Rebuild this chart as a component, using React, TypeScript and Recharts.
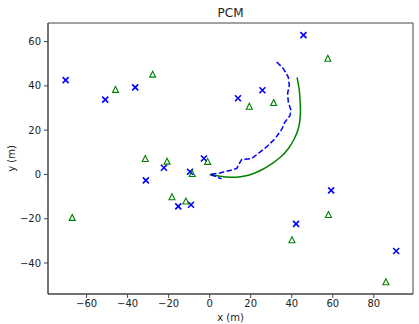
import React from "react";
import { ComposedChart, XAxis, YAxis, Scatter, Line, ReferenceArea } from "recharts";

// Blue "x" markers
const blueX = [-70.2, -50.9, -36.3, 13.8, 25.7, 45.7, -31.1, -22.3, -9.6, -2.8, -15.3, -9.1, 59.2, 42.1, 90.9];
const blueY = [42.6, 33.8, 39.3, 34.4, 38.0, 62.9, -2.7, 3.0, 1.2, 7.2, -14.4, -13.7, -7.2, -22.3, -34.6];

// Green triangle markers
const greenX = [-45.9, -27.8, 19.3, 31.2, 57.6, -31.4, -20.8, -8.5, -1.0, -18.4, -11.6, 57.9, -67.0, 40.1, 85.9];
const greenY = [38.4, 45.3, 30.8, 32.5, 52.5, 7.2, 6.0, 0.4, 5.9, -10.1, -12.0, -18.1, -19.4, -29.5, -48.5];

// Green solid arc
const arcX = [0, 5, 10, 15.1, 20.1, 25.2, 30.2, 34.7, 38.2, 41.2, 43.3, 44.2, 44.1, 43.6, 42.6];
const arcY = [0, -0.8, -1.3, -1.0, 0, 2, 4.8, 8, 11.5, 16, 21, 27, 33, 38.5, 43.8];

// Blue dashed path
const pathX = [32.7, 35.9, 38.3, 38.8, 38.0, 38.3, 39.6, 39.1, 36.7, 35.1, 31.9, 27.8, 23.7, 20.5, 17.2, 15.6, 14.5, 13.2, 9.9, 5, 0, 3, 5.8];
const pathY = [50.8, 47.8, 44.0, 40.3, 36.6, 32.8, 29.0, 26.5, 23.7, 20.3, 16.2, 12.5, 9.5, 7.2, 6.9, 6.8, 5.0, 2.7, 1.8, 0.7, 0, -1, -2];

const xTicks = [-60, -40, -20, 0, 20, 40, 60, 80];
const yTicks = [-40, -20, 0, 20, 40, 60];
const xDomain: [number, number] = [-78.8, 99.1];
const yDomain: [number, number] = [-54.0, 68.4];

const zip = (xs: number[], ys: number[]) => xs.map((x, i) => ({ x, y: ys[i] }));
const blueData = zip(blueX, blueY);
const greenData = zip(greenX, greenY);
const arcData = zip(arcX, arcY);
const pathData = zip(pathX, pathY);

const fmt = (v: number) => (v < 0 ? "\u2212" + Math.abs(v) : String(v));

const XMark = (p: any) => {
  const { cx, cy } = p;
  if (cx == null || cy == null) return <g />;
  const s = 3;
  return (
    <path
      d={`M${cx - s},${cy - s}L${cx + s},${cy + s}M${cx - s},${cy + s}L${cx + s},${cy - s}`}
      stroke="#0000ff"
      strokeWidth={1.6}
      fill="none"
    />
  );
};

const TriMark = (p: any) => {
  const { cx, cy } = p;
  if (cx == null || cy == null) return <g />;
  const s = 3;
  return (
    <path
      d={`M${cx},${cy - s}L${cx - s},${cy + s}L${cx + s},${cy + s}Z`}
      stroke="#008000"
      strokeWidth={1.1}
      fill="none"
    />
  );
};

const FONT = "'DejaVu Sans', sans-serif";
const axisColor = "#444";
const tickStyle = { fill: "#222", fontSize: 10, fontFamily: FONT };

export default function App() {
  return (
    <div style={{ position: "absolute", left: 0, top: 0, width: 419, height: 324, fontFamily: FONT, background: "#fff" }}>
      <ComposedChart width={419} height={324} margin={{ top: 23, right: 6, bottom: 0, left: 0 }}>
        <XAxis
          dataKey="x"
          type="number"
          domain={xDomain}
          ticks={xTicks}
          allowDataOverflow
          height={30}
          tickSize={4}
          tickMargin={2}
          tickFormatter={fmt}
          tick={tickStyle}
          axisLine={{ stroke: axisColor }}
          tickLine={{ stroke: axisColor }}
          interval={0}
        />
        <YAxis
          dataKey="y"
          type="number"
          domain={yDomain}
          ticks={yTicks}
          allowDataOverflow
          width={48}
          tickSize={4}
          tickMargin={3}
          tickFormatter={fmt}
          tick={tickStyle}
          axisLine={{ stroke: axisColor }}
          tickLine={{ stroke: axisColor }}
          interval={0}
        />
        <ReferenceArea
          x1={xDomain[0]}
          x2={xDomain[1]}
          y1={yDomain[0]}
          y2={yDomain[1]}
          fill="none"
          fillOpacity={0}
          stroke={axisColor}
          strokeWidth={1}
        />
        <Line
          data={arcData}
          dataKey="y"
          type="natural"
          stroke="#008000"
          strokeWidth={1.5}
          dot={false}
          activeDot={false}
          isAnimationActive={false}
        />
        <Line
          data={pathData}
          dataKey="y"
          type="linear"
          stroke="#0000ff"
          strokeWidth={1.5}
          strokeDasharray="5.5 2.4"
          dot={false}
          activeDot={false}
          isAnimationActive={false}
        />
        <Scatter data={blueData} shape={XMark} isAnimationActive={false} />
        <Scatter data={greenData} shape={TriMark} isAnimationActive={false} />
      </ComposedChart>
      <svg width={419} height={324} style={{ position: "absolute", left: 0, top: 0, pointerEvents: "none" }}>
        <text x={230.5} y={17} textAnchor="middle" fontSize={12} fill="#222" fontFamily={FONT}>
          PCM
        </text>
        <text x={230.5} y={321.3} textAnchor="middle" fontSize={10} fill="#222" fontFamily={FONT}>
          x (m)
        </text>
        <text
          x={15.4}
          y={158.5}
          textAnchor="middle"
          fontSize={10}
          fill="#222"
          fontFamily={FONT}
          transform="rotate(-90, 15.4, 158.5)"
        >
          y (m)
        </text>
      </svg>
    </div>
  );
}
